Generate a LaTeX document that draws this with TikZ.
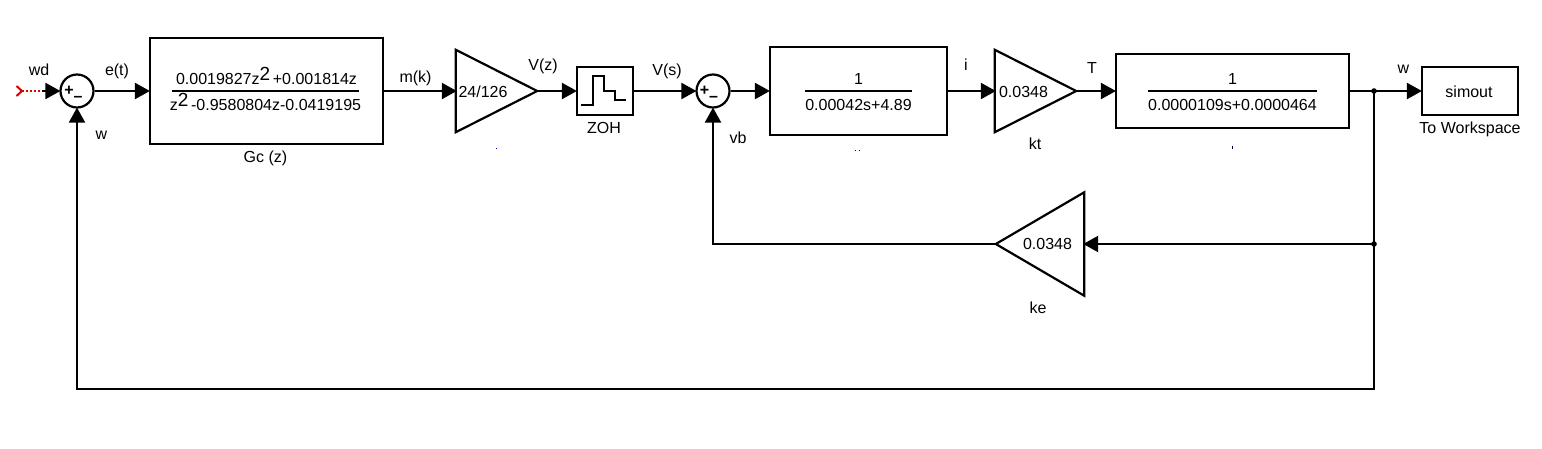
\documentclass[tikz,border=0pt]{standalone}
\usepackage{fontspec}
\setmainfont{Liberation Sans}
\usetikzlibrary{arrows.meta}
\tikzset{
  x=1pt,y=-1pt,
  wire/.style={line width=2.2pt,black},
  sig/.style={wire,-{Triangle[length=15pt,width=16pt]},shorten >=-1pt},
  blockbox/.style={draw,line width=2.2pt,minimum width=#1,inner sep=0pt},
  sumnode/.style={draw,circle,line width=2.2pt,minimum size=33pt,inner sep=0pt},
  gainarea/.style={minimum width=81pt,minimum height=82pt,inner sep=0pt},
  lbl/.style={inner sep=0pt,anchor=base,font=\fontsize{16}{18}\selectfont},
  sgn/.style={inner sep=0pt,font=\fontsize{16}{16}\bfseries\selectfont},
  dotted red line/.style={red!85!black,line width=2pt,dash pattern=on 2pt off 2pt}
}
\newcommand{\supTwo}{\raisebox{4pt}{\fontsize{19}{19}\selectfont 2}}
\begin{document}
\begin{tikzpicture}
\useasboundingbox[fill=white] (0,0) rectangle (1542,448);
% blocks
\node[sumnode] (s1) at (77,91) {};
\node[blockbox=233pt,minimum height=106pt] (gc) at (266.5,91) {};
\node[gainarea] (g1) at (496.5,91) {};
\node[blockbox=56pt,minimum height=48pt] (zoh) at (605,91) {};
\node[sumnode] (s2) at (713,91) {};
\node[blockbox=177pt,minimum height=88pt] (b2) at (858.5,91) {};
\node[gainarea] (g2) at (1035.5,91) {};
\node[blockbox=233pt,minimum height=74pt] (b3) at (1232.5,91) {};
\node[blockbox=96pt,minimum height=48pt] (sim) at (1470,91) {};
\node[minimum width=88pt,minimum height=103pt,inner sep=0pt] (g3) at (1040,244) {};
\draw[line width=2.2pt,line join=miter] (g1.north west) -- (g1.east) -- (g1.south west) -- cycle;
\draw[line width=2.2pt,line join=miter] (g2.north west) -- (g2.east) -- (g2.south west) -- cycle;
\draw[line width=2.2pt,line join=miter] (g3.north east) -- (g3.west) -- (g3.south east) -- cycle;
% signs
\node[sgn] (p1) at (69,90.5) {+};
\node[sgn] (m1) at (78,99) {–};
\node[sgn] (p2) at (704.5,90.5) {+};
\node[sgn] (m2) at (713.5,99) {–};
% ZOH icon
\draw[line width=2.2pt] (581,105) -- (593,105) -- (593,76) -- (604,76) -- (604,91) -- (615,91) -- (615,100) -- (626,100);
% fractions
\draw[line width=2.2pt] (172,91) -- (359,91);
\draw[line width=2.2pt] (805,91) -- (912,91);
\draw[line width=2.2pt] (1148,91) -- (1317,91);
% input
\coordinate (inA) at (22,91);
\coordinate (inB) at (42,91);
\draw[red!85!black,line width=2pt] (16.5,86) -- (22,91) -- (16.5,96);
\draw[dotted red line] (inA) -- (inB);
\draw[sig] (inB) -- (s1.west);
% connectors
\draw[sig] (s1.east) -- (gc.west);
\draw[sig] (gc.east) -- (g1.west);
\draw[sig] (g1.east) -- (zoh.west);
\draw[sig] (zoh.east) -- (s2.west);
\draw[sig] (s2.east) -- (b2.west);
\draw[sig] (b2.east) -- (g2.west);
\draw[sig] (g2.east) -- (b3.west);
\draw[sig] (b3.east) -- (sim.west);
\coordinate (j1) at (1374,91);
\coordinate (j2) at (1374,244);
\coordinate (c1) at (1374,389);
\draw[sig,line join=miter] (j1) -- (j2) -- (c1) -- (s1.south |- c1) -- (s1.south);
\draw[sig] (j2) -- (g3.east);
\draw[sig,line join=miter] (g3.west) -- (s2.south |- g3.west) -- (s2.south);
\fill (j1) circle (2.8pt);
\fill (j2) circle (2.8pt);
% block texts
\node[lbl] (t1) at (266.5,84) {0.0019827z\supTwo\,+0.001814z};
\node[lbl] (t2) at (265.5,110) {z\supTwo\,-0.9580804z-0.0419195};
\node[lbl] (t3) at (483,97) {24/126};
\node[lbl] (t4) at (858.5,84) {1};
\node[lbl] (t5) at (858.5,110) {0.00042s+4.89};
\node[lbl] (t6) at (1023.5,97) {0.0348};
\node[lbl] (t7) at (1232.5,84) {1};
\node[lbl] (t8) at (1232.5,110) {0.0000109s+0.0000464};
\node[lbl] (t9) at (1469,97) {simout};
\node[lbl] (t10) at (1047.5,249) {0.0348};
% labels
\node[lbl] (l1) at (39,75) {wd};
\node[lbl] (l2) at (117,75) {e(t)};
\node[lbl] (l3) at (101.5,139) {w};
\node[lbl] (l4) at (265.5,162) {Gc (z)};
\node[lbl] (l5) at (415.5,82) {m(k)};
\node[lbl] (l6) at (543,70) {V(z)};
\node[lbl] (l7) at (667,75) {V(s)};
\node[lbl] (l8) at (604,133) {ZOH};
\node[lbl] (l9) at (738,143) {vb};
\node[lbl] (l10) at (966,70) {i};
\node[lbl] (l11) at (1092,73) {T};
\node[lbl] (l12) at (1035,149) {kt};
\node[lbl] (l13) at (1403.5,73) {w};
\node[lbl] (l14) at (1470,133) {To Workspace};
\node[lbl] (l15) at (1038,313) {ke};
% tiny remnants of clipped names
\fill[blue!60!black] (495.5,147.5) rectangle (496.5,148.5);
\fill[blue!60!black] (855,150) rectangle (856.3,151.3);
\fill[blue!60!black] (859,150) rectangle (860.3,151.3);
\fill[black!70!blue] (1231.5,146) rectangle (1233,148.5);
\end{tikzpicture}
\end{document}
